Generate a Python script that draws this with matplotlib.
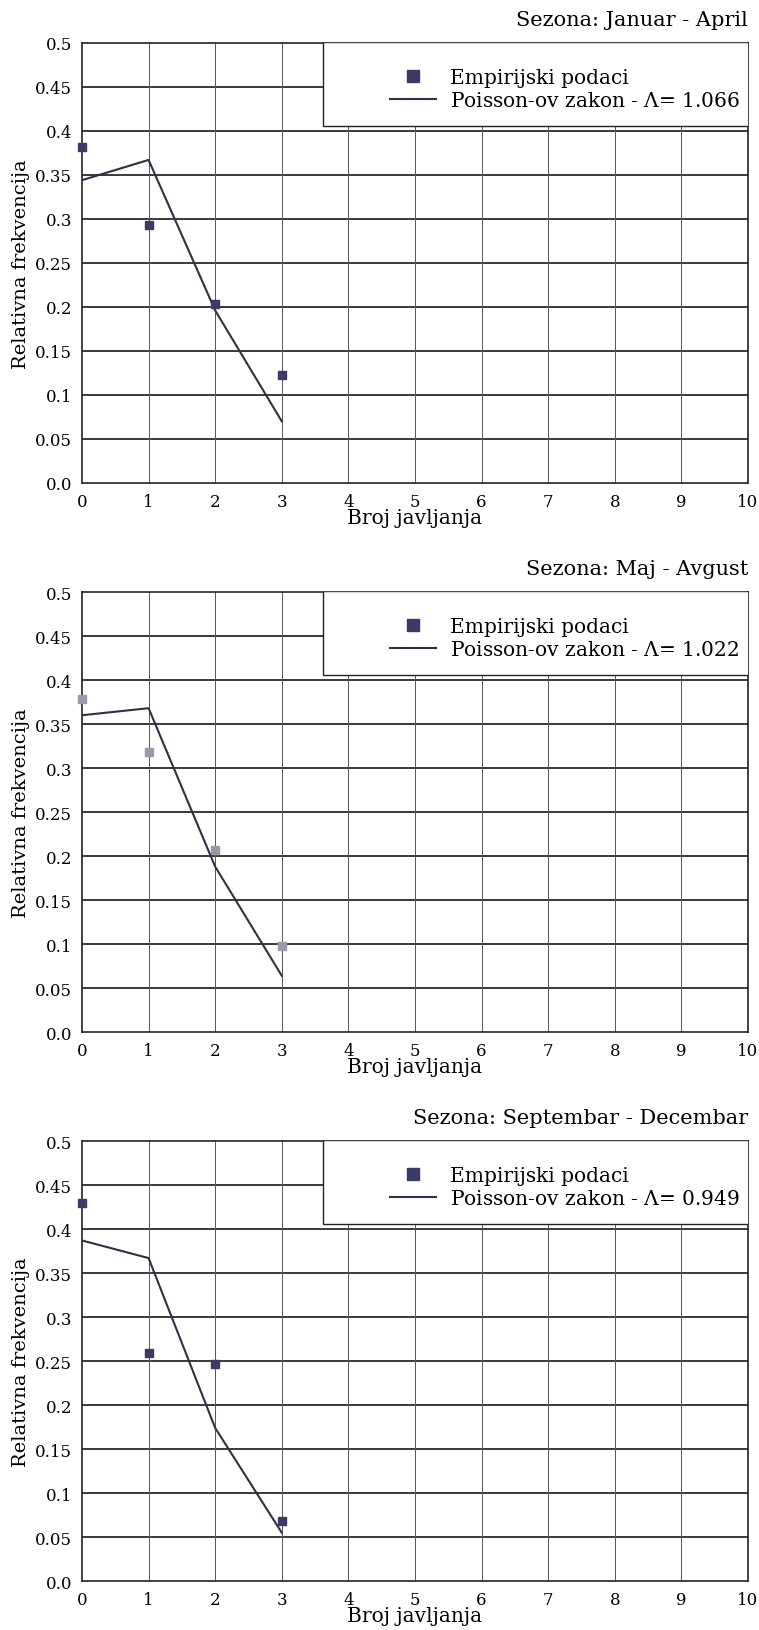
from matplotlib import pyplot as plt
from matplotlib.patches import Rectangle
import numpy as np

plt.rcParams['font.family'] = ['DejaVu Serif']
plt.rcParams['mathtext.fontset'] = 'dejavuserif'

# broj javljanja (0..3)
k = [0, 1, 2, 3]

seasons = ['Sezona: Januar - April', 'Sezona: Maj - Avgust',
           'Sezona: Septembar - Decembar']
lambdas = ['1.066', '1.022', '0.949']

# empirijske relativne frekvencije
emp_jan_apr = [0.382, 0.293, 0.203, 0.123]
emp_maj_avg = [0.378, 0.318, 0.207, 0.098]
emp_sep_dec = [0.430, 0.259, 0.247, 0.068]

# Poisson-ov zakon
poi_jan_apr = [0.344, 0.367, 0.196, 0.070]
poi_maj_avg = [0.360, 0.368, 0.188, 0.064]
poi_sep_dec = [0.387, 0.367, 0.174, 0.055]

empirical = [emp_jan_apr, emp_maj_avg, emp_sep_dec]
poisson = [poi_jan_apr, poi_maj_avg, poi_sep_dec]

x_ticks = np.arange(0, 11)
y_ticks = np.arange(0, 0.51, 0.05)
y_labels = ['0.0', '0.05', '0.1', '0.15', '0.2', '0.25', '0.3', '0.35',
            '0.4', '0.45', '0.5']

line_col = '#3a2b42'
mark_cols = ['#3b3b66', '#9a9aa8', '#3b3b66']

fig = plt.figure(figsize=(7.59, 16.31), dpi=100)
bottoms = [0.7033, 0.3666, 0.0300]

for i in range(3):
    ax = fig.add_axes([0.108, bottoms[i], 0.8775, 0.2698])
    ax.set_xlim(0, 10)
    ax.set_ylim(0, 0.5)

    # mreža: horizontalne linije tamnije od vertikalnih
    for yv in y_ticks[1:-1]:
        ax.axhline(yv, color='#2a2a2a', lw=1.3, zorder=1)
    for xv in x_ticks[1:-1]:
        ax.axvline(xv, color='#555555', lw=0.7, zorder=1)

    ax.plot(k, poisson[i], color=line_col, lw=1.5, zorder=3,
            label='Poisson-ov zakon - $\\Lambda$= ' + lambdas[i])
    ax.plot(k, empirical[i], ls='none', marker='s', ms=5.2,
            color=mark_cols[i], mec=mark_cols[i], zorder=4, clip_on=False)
    ax.plot([], [], ls='none', marker='s', ms=8, color='#3b3b66',
            label='Empirijski podaci')

    # okvir legende preko mreže
    ax.add_patch(Rectangle((0.362, 0.812), 0.64, 0.19, transform=ax.transAxes,
                           facecolor='white', edgecolor='#222222', lw=1.0,
                           zorder=5))
    handles, labels = ax.get_legend_handles_labels()
    leg = ax.legend([handles[1], handles[0]], [labels[1], labels[0]],
                    loc='upper left', bbox_to_anchor=(0.435, 0.985),
                    frameon=False, fontsize=14.5, handlelength=2.3,
                    handletextpad=0.7, labelspacing=0.2, numpoints=1,
                    borderpad=0.4)
    leg.set_zorder(6)

    ax.set_xticks(x_ticks)
    ax.set_yticks(y_ticks)
    ax.set_yticklabels(y_labels)
    ax.tick_params(length=0, labelsize=12, pad=7)
    for s in ax.spines.values():
        s.set_color('#222222')
        s.set_linewidth(1.2)

    ax.set_xlabel('Broj javljanja', fontsize=14.5, labelpad=-1)
    ax.set_ylabel('Relativna frekvencija', fontsize=14, labelpad=4)
    ax.set_title(seasons[i], loc='right', fontsize=15, pad=13)

plt.savefig('out.png', dpi=100)
